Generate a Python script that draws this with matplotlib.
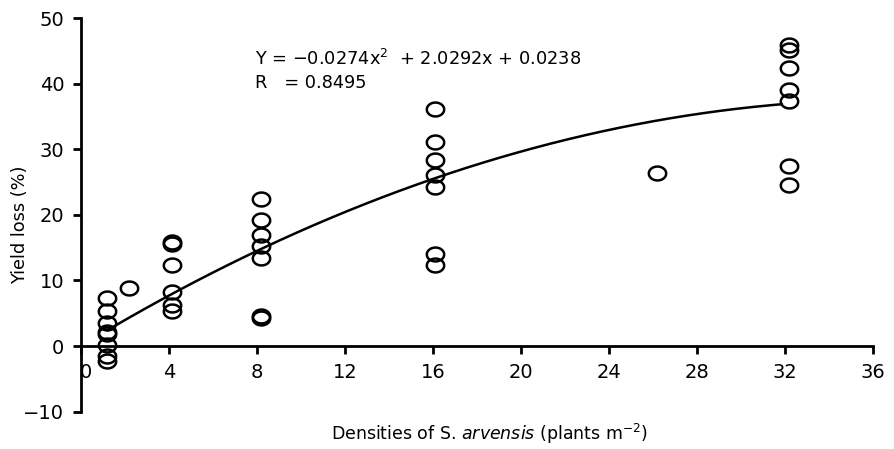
import matplotlib
matplotlib.use("Agg")
import matplotlib.pyplot as plt
import matplotlib.transforms as mtrans
import numpy as np

dens = [1.2, 2.2, 4.15, 8.17, 16.1, 26.2, 32.2]
loss = [
  [7.4, 5.3, 3.5, 2.2, 1.8, 0.2, -1.5, -2.3],
  [8.9],
  [15.9, 15.6, 12.4, 8.3, 6.3, 5.3],
  [22.4, 19.2, 16.9, 15.2, 13.4, 4.55, 4.3],
  [36.2, 31.1, 28.4, 26.0, 24.2, 14.0, 12.4],
  [26.4],
  [45.95, 45.1, 42.4, 39.1, 37.4, 27.5, 24.5],
]
# quadratic fit printed on the chart
a, b, c = -0.0274, 2.0292, 0.0238
fit_x0, fit_x1 = 1.2, 31.85

xticks = [0, 4, 8, 12, 16, 20, 24, 28, 32, 36]
yticks = [-10, 0, 10, 20, 30, 40, 50]

plt.rcParams['font.family'] = 'DejaVu Sans'
plt.rcParams['mathtext.fontset'] = 'dejavusans'

fig = plt.figure(figsize=(8.95, 4.49), dpi=100)
ax = fig.add_axes([81/895, 1 - 411.7/449, 792/895, 393.7/449])

# slightly wide open ellipse marker
t = np.linspace(0, 2*np.pi, 72)
ell = list(zip(1.25*np.cos(t), np.sin(t)))

for d, ys in zip(dens, loss):
  ax.plot([d]*len(ys), ys, linestyle='none', marker=ell, markersize=12.5,
          markerfacecolor='none', markeredgecolor='black', markeredgewidth=1.8)

xs = np.linspace(fit_x0, fit_x1, 200)
ax.plot(xs, a*xs**2 + b*xs + c, color='black', lw=1.8)

ax.set_xlim(0, 36)
ax.set_ylim(-10, 50)
ax.set_xticks(xticks)
ax.set_yticks(yticks)
ax.spines['top'].set_visible(False)
ax.spines['right'].set_visible(False)
ax.spines['bottom'].set_position(('data', 0))
ax.spines['left'].set_linewidth(2)
ax.spines['bottom'].set_linewidth(2)
ax.tick_params(axis='both', direction='out', length=6, width=2, labelsize=14)
ax.tick_params(axis='x', pad=6)
ax.tick_params(axis='y', pad=6)

# the "0" on the x axis sits a little right of the spine
lab0 = ax.xaxis.get_major_ticks()[0].label1
lab0.set_transform(lab0.get_transform() + mtrans.ScaledTranslation(5/100, 0, fig.dpi_scale_trans))

ax.text(7.9, 42.9, "Y = −0.0274x$^{2}$  + 2.0292x + 0.0238", fontsize=12.8, va='baseline')
ax.text(7.9, 39.4, "R   = 0.8495", fontsize=12.8, va='baseline')

fig.text(20/895, 1 - 225/449, "Yield loss (%)", rotation=90, ha='center', va='center', fontsize=12.8)
fig.text(489.5/895, 1 - 440/449, "Densities of S. $\\it{arvensis}$ (plants m$^{-2}$)",
         ha='center', va='baseline', fontsize=12.5)

fig.savefig("out.png", dpi=100)
